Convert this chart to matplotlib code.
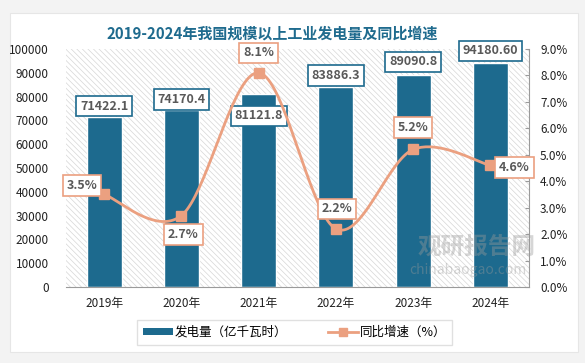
import numpy as np
import matplotlib
matplotlib.use('Agg')
import matplotlib.pyplot as plt
from matplotlib.patches import Rectangle, Patch
from matplotlib.lines import Line2D

plt.rcParams['font.family'] = ['Noto Sans CJK SC', 'DejaVu Sans']
plt.rcParams['hatch.linewidth'] = 0.5
plt.rcParams['hatch.color'] = '#d6d6d6'

# data
years = ['2019年', '2020年', '2021年', '2022年', '2023年', '2024年']
power = [71422.1, 74170.4, 81121.8, 83886.3, 89090.8, 94180.6]
power_txt = ['71422.1', '74170.4', '81121.8', '83886.3', '89090.8', '94180.60']
growth = [3.5, 2.7, 8.1, 2.2, 5.2, 4.6]

bar_col = '#1d6a8e'
line_col = '#eba080'
txt_col = '#595959'

fig = plt.figure(figsize=(5.85, 3.63), dpi=100)
fig.patch.set_facecolor('#f3f3f3')
# white card
fig.add_artist(Rectangle((10/585, 1-352/363), 568/585, 339/363,
                         transform=fig.transFigure, facecolor='white',
                         edgecolor='#e6e6e6', lw=0.8, zorder=0))

ax = fig.add_axes([65.5/585, 1-287/363, 463.5/585, 238/363])
ax.set_zorder(1)
ax.patch.set_facecolor('white')
ax.patch.set_hatch('\\' * 6)
ax.patch.set_edgecolor('#d6d6d6')

x = np.arange(len(years))
ax.bar(x, power, width=0.45, color=bar_col, edgecolor='white', lw=1, zorder=2)
ax.set_xlim(-0.5, len(years) - 0.5)
ax.set_ylim(0, 100000)
ax.set_yticks(np.arange(0, 100001, 10000))
ax.set_xticks(x)
ax.set_xticklabels(years)
ax.tick_params(axis='y', length=0, labelsize=8.5, pad=12, colors='#222222')
ax.tick_params(axis='x', length=0, labelsize=8.5, pad=7, colors='#222222')
for s in ['top', 'left', 'right']:
    ax.spines[s].set_visible(False)
ax.spines['bottom'].set_color('#9a9a9a')

# bar labels
bar_off = [11, 11, -22, 12, 13, 12]
for i, v in enumerate(power):
    ax.annotate(power_txt[i], (x[i], v), xytext=(0, bar_off[i]),
                textcoords='offset pixels', ha='center', va='center',
                fontsize=9, fontweight='bold', color=txt_col, zorder=6,
                bbox=dict(boxstyle='square,pad=0.3', fc='white', ec=bar_col, lw=1.2))

ax2 = ax.twinx()
ax2.set_zorder(2)
ax2.patch.set_visible(False)

# excel-like smooth curve (cubic bezier, catmull-rom tangents)
px = np.array(x, dtype=float)
py = np.array(growth, dtype=float)
cx, cy = [], []
t = np.linspace(0, 1, 40)
for i in range(len(px) - 1):
    p0 = np.array([px[max(i-1, 0)], py[max(i-1, 0)]])
    p1 = np.array([px[i], py[i]])
    p2 = np.array([px[i+1], py[i+1]])
    p3 = np.array([px[min(i+2, len(px)-1)], py[min(i+2, len(px)-1)]])
    c1 = p1 + (p2 - p0) / 6
    c2 = p2 - (p3 - p1) / 6
    b = ((1-t)**3)[:, None]*p1 + (3*(1-t)**2*t)[:, None]*c1 + (3*(1-t)*t**2)[:, None]*c2 + (t**3)[:, None]*p2
    cx.extend(b[:, 0]); cy.extend(b[:, 1])
ax2.plot(cx, cy, color=line_col, lw=2, zorder=3)
ax2.plot(px, py, ls='none', marker='s', ms=6.5, color=line_col, zorder=4)

ax2.set_ylim(0, 9)
ax2.set_yticks(np.arange(0, 9.01, 1))
ax2.set_yticklabels(['%.1f%%' % v for v in np.arange(0, 9.01, 1)])
ax2.tick_params(axis='y', direction='in', length=3, color='#9a9a9a',
                labelsize=8.5, pad=8, colors='#222222')
ax2.tick_params(axis='y', color='#9a9a9a')
for s in ['top', 'left', 'bottom']:
    ax2.spines[s].set_visible(False)
ax2.spines['right'].set_color('#9a9a9a')

line_off = [(-22, 9), (2, -19), (0, 20), (1, 20), (0, 22), (24, -2)]
for i, v in enumerate(growth):
    ax2.annotate('%.1f%%' % v, (x[i], v), xytext=line_off[i],
                 textcoords='offset pixels', ha='center', va='center',
                 fontsize=9, fontweight='bold', color=txt_col, zorder=6,
                 annotation_clip=False,
                 bbox=dict(boxstyle='square,pad=0.3', fc='white', ec=line_col, lw=1.2))

# watermark
fig.text(0.815, 1-247/363, '观研报告网', fontsize=17, fontweight='bold',
         color='#9a9a9a', alpha=0.4, ha='center', va='center', zorder=5)
fig.text(0.80, 1-270/363, 'chinabaogao.com', fontsize=10,
         color='#9a9a9a', alpha=0.4, ha='center', va='center', zorder=5)

fig.text(272/585, 1-34/363, '2019-2024年我国规模以上工业发电量及同比增速',
         fontsize=10.8, fontweight='bold', color='#1f6b8e', ha='center', va='center')

handles = [Patch(facecolor=bar_col, edgecolor='none'),
           Line2D([], [], color=line_col, lw=2, marker='s', ms=6)]
leg = fig.legend(handles, ['发电量（亿千瓦时）', '同比增速（%）'],
                 loc='center', bbox_to_anchor=(294.5/585, 1-332.5/363),
                 ncol=2, fontsize=9, frameon=True, fancybox=False,
                 handlelength=2.4, handleheight=0.45, handletextpad=0.2,
                 columnspacing=3.2, borderpad=0.45)
leg.get_frame().set_edgecolor('#d9d9d9')
leg.get_frame().set_linewidth(1)

fig.savefig('out.png', dpi=100, facecolor=fig.get_facecolor())
